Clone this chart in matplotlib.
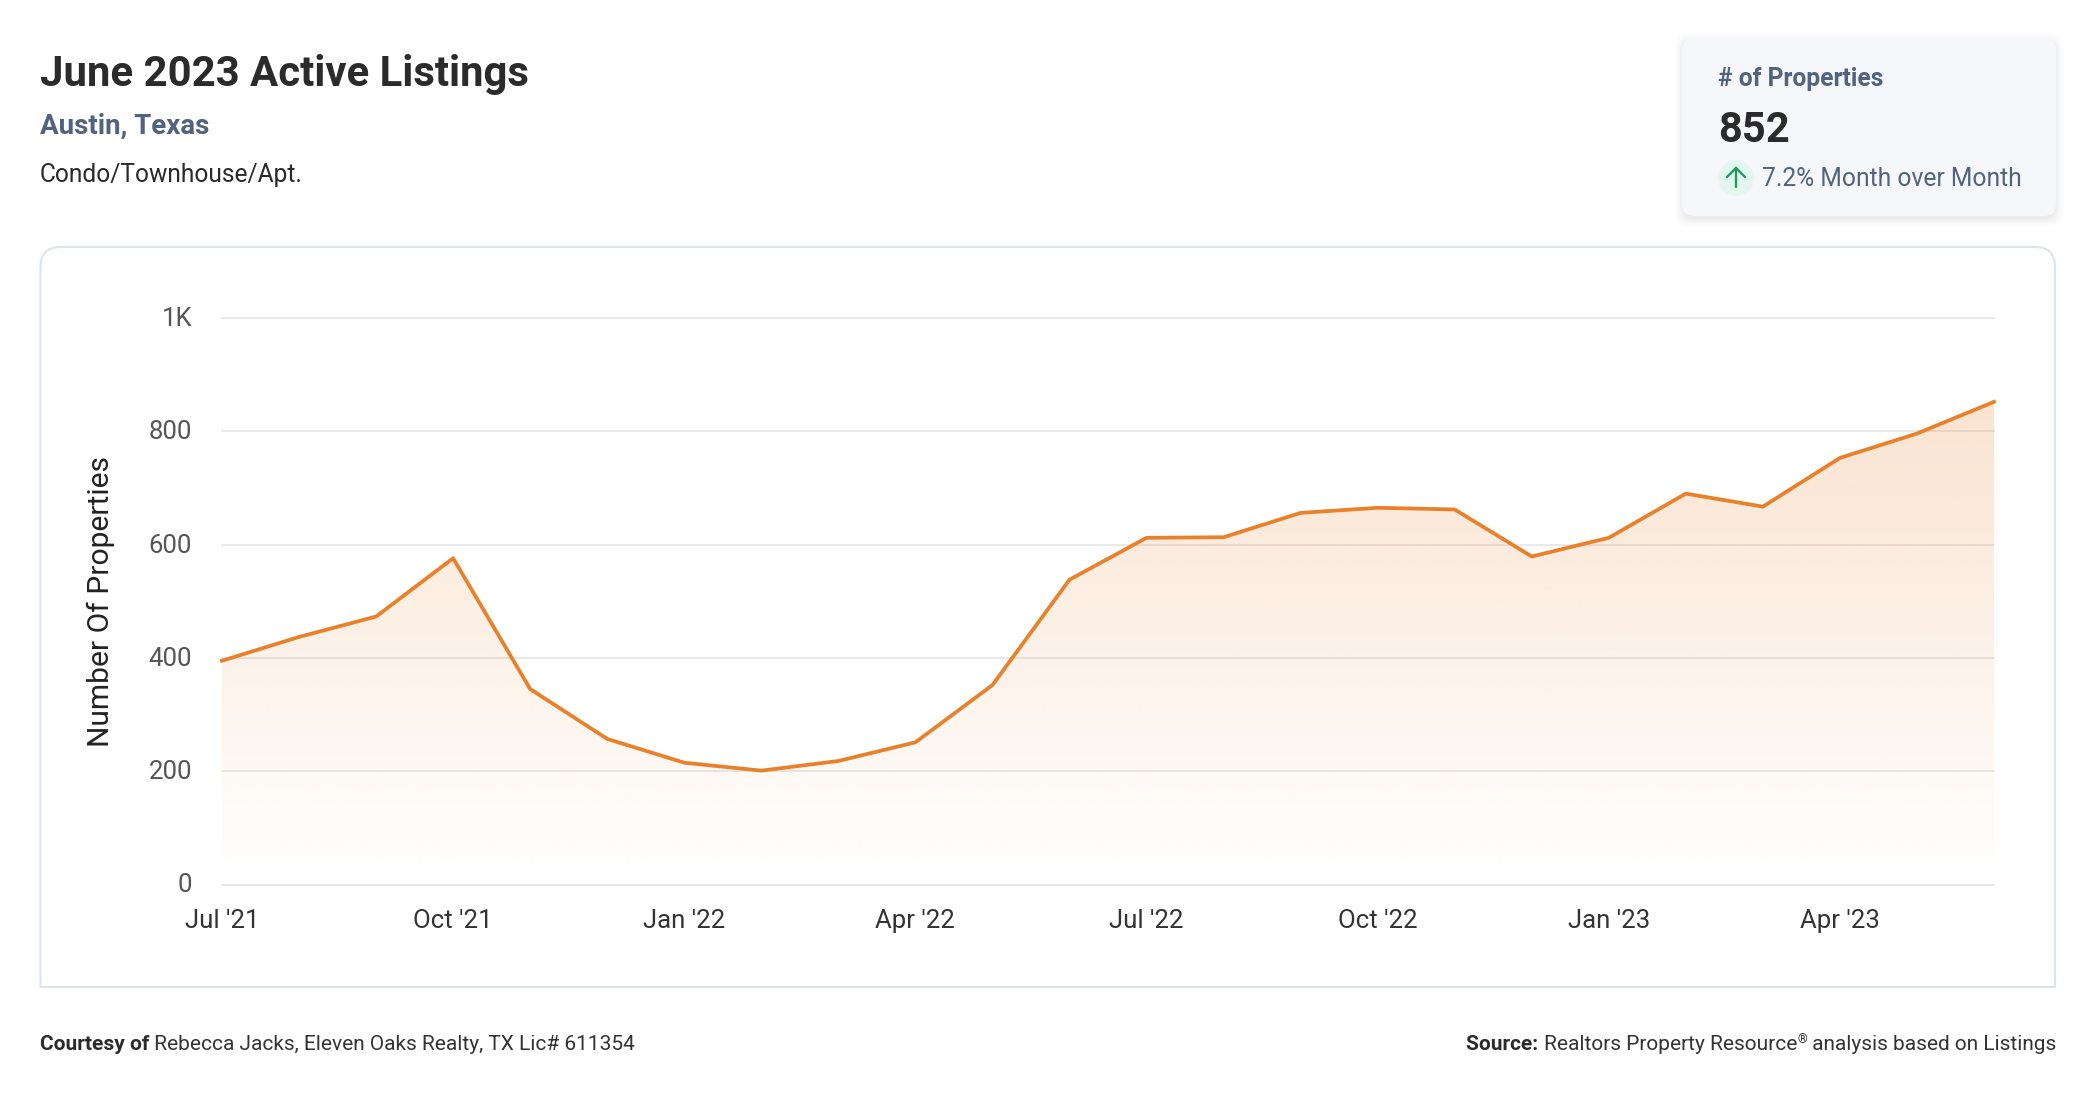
import numpy as np
import matplotlib
matplotlib.use('Agg')
import matplotlib.pyplot as plt
from matplotlib.colors import to_rgb
from matplotlib.patches import Circle, FancyBboxPatch, PathPatch, Polygon
from matplotlib.path import Path
from matplotlib.transforms import Affine2D

plt.rcParams['font.family'] = ['Roboto', 'DejaVu Sans']

months = ["Jul '21", "Aug '21", "Sep '21", "Oct '21", "Nov '21", "Dec '21",
          "Jan '22", "Feb '22", "Mar '22", "Apr '22", "May '22", "Jun '22",
          "Jul '22", "Aug '22", "Sep '22", "Oct '22", "Nov '22", "Dec '22",
          "Jan '23", "Feb '23", "Mar '23", "Apr '23", "May '23", "Jun '23"]
listings = [395, 437, 473, 576, 345, 257, 215, 201, 218, 251, 352, 538,
            612, 613, 656, 665, 662, 579, 612, 690, 667, 753, 796, 852]
y_ticks = [0, 200, 400, 600, 800, 1000]
y_tick_labels = ['0', '200', '400', '600', '800', '1K']

W, H = 2096, 1100
ORANGE = '#e9802a'
SLATE = '#51637d'
DARK = '#2b2b2b'

fig = plt.figure(figsize=(W / 100, H / 100), dpi=100, facecolor='white')

# overlay in pixel coordinates for the cards and header text
bg = fig.add_axes([0, 0, 1, 1], zorder=0)
bg.set_xlim(0, W)
bg.set_ylim(H, 0)
bg.axis('off')

# chart panel, rounded on top only
px0, px1, py0, py1, r = 40.5, 2055, 247, 987, 20
panel = Path([(px0, py1), (px0, py0 + r), (px0, py0), (px0 + r, py0),
              (px1 - r, py0), (px1, py0), (px1, py0 + r), (px1, py1), (px0, py1)],
             [Path.MOVETO, Path.LINETO, Path.CURVE3, Path.CURVE3, Path.LINETO,
              Path.CURVE3, Path.CURVE3, Path.LINETO, Path.CLOSEPOLY])
bg.add_patch(PathPatch(panel, fc='white', ec='#dde4ec', lw=1.5))

# stat card with a soft shadow
for grow, alpha in [(8, 0.008), (6, 0.011), (4, 0.015), (2, 0.02), (0, 0.025)]:
    bg.add_patch(FancyBboxPatch((1682 - grow, 41 - grow), 374 + 2 * grow, 178 + 2 * grow,
                                boxstyle='round,pad=0,rounding_size=12', fc='black',
                                ec='none', alpha=alpha))
bg.add_patch(FancyBboxPatch((1682, 38), 374, 178, boxstyle='round,pad=0,rounding_size=12',
                            fc='#f5f7fb', ec='none'))
bg.add_patch(Circle((1736, 178), 18, fc='#e2f8ec', ec='none'))
bg.plot([1736, 1736], [168, 187], color='#1f9a63', lw=1.7, solid_capstyle='round')
bg.plot([1727, 1736, 1745], [177, 168, 177], color='#1f9a63', lw=1.7,
        solid_capstyle='round', solid_joinstyle='miter')

bg.text(40, 86, 'June 2023 Active Listings', fontsize=30.2, fontweight='bold', color=DARK, va='baseline')
bg.text(40, 134, 'Austin, Texas', fontsize=20, fontweight='bold', color=SLATE, va='baseline')
bg.text(40, 182, 'Condo/Townhouse/Apt.', fontsize=17.65, color='#2a2a2a', va='baseline')
bg.text(1718, 86, '# of Properties', fontsize=17.75, fontweight='bold', color=SLATE, va='baseline')
bg.text(1718, 142, '852', fontsize=30, fontweight='bold', color=DARK, va='baseline')
bg.text(1762, 186, '7.2% Month over Month', fontsize=17.75, color=SLATE, va='baseline')

# footer, pieces chained so the weights and the small mark line up
foot = 15.05
left = bg.text(40, 1050, 'Courtesy of', fontsize=foot, fontweight='bold', color=DARK, va='baseline')
bg.annotate(' Rebecca Jacks, Eleven Oaks Realty, TX Lic# 611354', xy=(1, 0), xycoords=left,
            fontsize=foot, color='#333333', va='bottom')
right = bg.text(2056, 1050, ' analysis based on Listings', fontsize=foot, color='#333333',
                ha='right', va='baseline')
mark = bg.annotate('\u00ae', xy=(0, 0), xycoords=right, xytext=(0, 8), textcoords='offset pixels',
                   fontsize=9, color='#333333', ha='right', va='bottom')
res = bg.annotate('Realtors Property Resource', xy=(0, 0), xycoords=mark, xytext=(0, -8),
                  textcoords='offset pixels', fontsize=foot, color='#333333', ha='right', va='bottom')
bg.annotate('Source: ', xy=(0, 0), xycoords=res, fontsize=foot, fontweight='bold', color=DARK,
            ha='right', va='bottom')

# main plot
x0, x1, y_top, y_zero = 222, 1994, 318, 884.5
ax = fig.add_axes([x0 / W, 1 - y_zero / H, (x1 - x0) / W, (y_zero - y_top) / H], zorder=1)
ax.patch.set_alpha(0)
xs = np.arange(len(months))
ax.set_yticks(y_ticks, y_tick_labels)
ax.set_xticks(xs[::3], months[::3])
ax.grid(axis='y', color='#e5e5e5', lw=1.2, zorder=1, clip_on=False)
ax.set_axisbelow(True)
ax.tick_params(length=0)
ax.tick_params(axis='y', labelsize=18.5, labelcolor='#555555', pad=21.5)
ax.tick_params(axis='x', labelsize=18.5, labelcolor='#333333', pad=17.5)
ax.set_ylabel('Number Of Properties', fontsize=21.6, color='#222222', labelpad=24)
for lab in ax.get_yticklabels():
    lab.set_transform(lab.get_transform() + Affine2D().translate(0, 1.5))
for s in ax.spines.values():
    s.set_visible(False)

# area gradient, clipped to the shape under the line
grad = np.zeros((256, 2, 4))
grad[..., :3] = to_rgb(ORANGE)
grad[..., 3] = np.linspace(0.22, 0, 256)[:, None]
img = ax.imshow(grad, extent=(xs[0], xs[-1], 0, max(listings)), origin='upper', aspect='auto',
                zorder=2, interpolation='bilinear')
area = Polygon(list(zip(xs, listings)) + [(xs[-1], 0), (xs[0], 0)], closed=True, transform=ax.transData,
               fc='none', ec='none')
ax.add_patch(area)
img.set_clip_path(area)
ax.plot(xs, listings, color=ORANGE, lw=2.7, zorder=3, clip_on=False, solid_joinstyle='round')
ax.set_xlim(xs[0], xs[-1])
ax.set_ylim(0, 1000)

fig.savefig('out.png', dpi=100)
plt.close(fig)
